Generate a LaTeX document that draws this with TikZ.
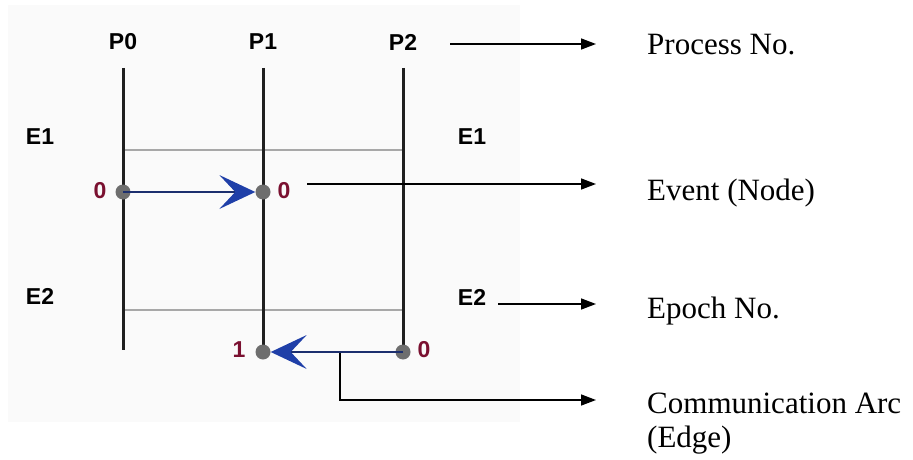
\documentclass[tikz,border=0pt]{standalone}
\usepackage{fontspec}
\setmainfont{Liberation Serif}
\newfontfamily\labelfont{Liberation Sans}
\usetikzlibrary{arrows.meta}

\definecolor{panel}{HTML}{FAFAFA}
\definecolor{epochgrey}{HTML}{A8A8A8}
\definecolor{dotgrey}{HTML}{6E6E6E}
\definecolor{numred}{HTML}{7A1030}
\definecolor{msgline}{HTML}{1C2F6E}
\definecolor{msghead}{HTML}{1F3FA8}

\tikzset{
  plabel/.style={font=\labelfont\bfseries\fontsize{23}{26}\selectfont, inner sep=0pt},
  numlabel/.style={font=\labelfont\bfseries\fontsize{23}{26}\selectfont, text=numred, inner sep=0pt},
  legend/.style={font=\fontsize{31}{34}\selectfont, anchor=base west, inner sep=0pt, align=left},
  procline/.style={line width=3pt, draw=black!88},
  epochline/.style={line width=1.5pt, draw=epochgrey},
  eventdot/.style={circle, fill=dotgrey, minimum size=15pt, inner sep=0pt},
  msg/.style={line width=2.8pt, draw=msgline,
    -{Stealth[length=36pt, width=34pt, inset=16pt, color=msghead, fill=msghead, line width=0pt]}},
  pointer/.style={line width=1.5pt, -{Triangle[length=15pt, width=11pt]}},
}

\begin{document}
\begin{tikzpicture}[x=1pt, y=-1pt]
  \useasboundingbox (0,0) rectangle (913,460);
  \fill[panel] (8,5) rectangle (520,422);

  % process headers
  \node[plabel] (lP0) at (123,42) {P0};
  \node[plabel] (lP1) at (263,42) {P1};
  \node[plabel] (lP2) at (403,42) {P2};

  % epoch labels
  \node[plabel] (lE1) at (40,137) {E1};
  \node[plabel] (lE2) at (40,296) {E2};
  \node[plabel] (rE1) at (472,137) {E1};
  \node[plabel] (rE2) at (472,297) {E2};

  % process time lines
  \coordinate (p0top) at (123,68);  \coordinate (p0bot) at (123,350);
  \coordinate (p1top) at (263,68);  \coordinate (p1bot) at (263,352);
  \coordinate (p2top) at (403,68);  \coordinate (p2bot) at (403,352);

  % epoch boundaries
  \coordinate (ep1a) at (123,150); \coordinate (ep1b) at (403,150);
  \coordinate (ep2a) at (123,310); \coordinate (ep2b) at (403,310);
  \draw[epochline] (ep1a) -- (ep1b);
  \draw[epochline] (ep2a) -- (ep2b);

  \draw[procline] (p0top) -- (p0bot);
  \draw[procline] (p1top) -- (p1bot);
  \draw[procline] (p2top) -- (p2bot);

  % legend pointers
  \coordinate (sProc) at (450,44);  \coordinate (tProc) at (596,44);
  \coordinate (sEvent) at (307,184); \coordinate (tEvent) at (596,184);
  \coordinate (sEpoch) at (498,304); \coordinate (tEpoch) at (596,304);
  \coordinate (arcmid) at (340,352); \coordinate (tArc) at (596,400);
  \draw[pointer] (sProc) -- (tProc);
  \draw[pointer] (sEvent) -- (tEvent);
  \draw[pointer] (sEpoch) -- (tEpoch);
  \draw[pointer] (arcmid) |- (tArc);

  % events
  \node[eventdot] (ev00) at (123,192) {};
  \node[eventdot] (ev10) at (263,192) {};
  \node[eventdot] (ev11) at (263,352) {};
  \node[eventdot] (ev20) at (403,352) {};

  % communication arcs
  \draw[msg] (ev00.center) -- (ev10);
  \draw[msg] (ev20.center) -- (ev11);

  % event numbers
  \node[numlabel] (n00) at (100,191) {0};
  \node[numlabel] (n10) at (284,191) {0};
  \node[numlabel] (n11) at (239,350) {1};
  \node[numlabel] (n20) at (424,350) {0};

  % legend texts (a two-line node sits on its last baseline)
  \node[legend] (tProcess) at (647,55) {Process No.};
  \node[legend] (tEvt) at (647,200) {Event (Node)};
  \node[legend] (tEp) at (647,318) {Epoch No.};
  \node[legend] (tComm) at (647,447) {Communication Arc\\(Edge)};
\end{tikzpicture}
\end{document}
